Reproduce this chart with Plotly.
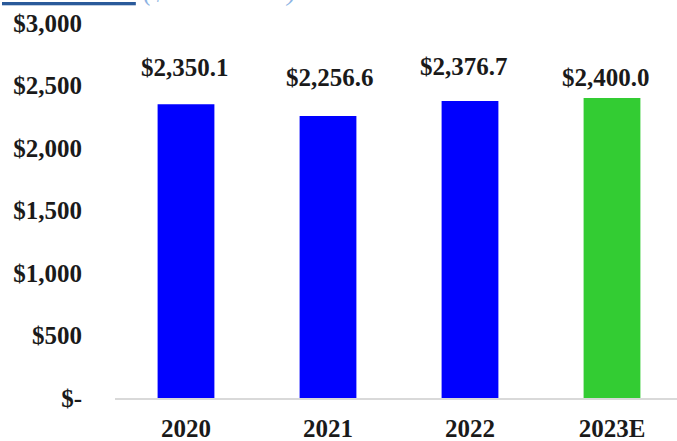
import plotly.graph_objects as go

categories = ["2020", "2021", "2022", "2023E"]
revenues = [2350.1, 2256.6, 2376.7, 2400.0]
value_labels = ["$2,350.1", "$2,256.6", "$2,376.7", "$2,400.0"]
y_tickvals = [0, 500, 1000, 1500, 2000, 2500, 3000]
y_ticktext = ["$-", "$500", "$1,000", "$1,500", "$2,000", "$2,500", "$3,000"]

bar_colors = ["#0000FF", "#0000FF", "#0000FF", "#33CC33"]
label_yshift = [37, 38, 34, 21]
label_xshift = [-1, 2, -6, -6]

FONT = "Liberation Serif"
W, H = 677, 441
L, R, T, B = 115, 0, 23, 43
plot_w = W - L - R

fig = go.Figure()
fig.add_trace(go.Bar(
    x=categories, y=revenues,
    marker=dict(color=bar_colors, line=dict(width=0)),
    hoverinfo="skip",
))

for i, (v, t) in enumerate(zip(revenues, value_labels)):
    fig.add_annotation(
        x=i, y=v, xref="x", yref="y", text=f"<b>{t}</b>", showarrow=False,
        xanchor="center", yanchor="middle",
        yshift=label_yshift[i], xshift=label_xshift[i],
        font=dict(family=FONT, size=25, color="#1a1a1a"),
    )

# Title (partially cropped at the top of the picture)
fig.add_annotation(
    xref="paper", yref="paper", x=-L / plot_w, y=1 + (T - 9) / (H - T - B),
    xanchor="left", yanchor="bottom", showarrow=False,
    text='<span style="color:#2A5A9A;font-size:33px"><b><u>Revenues</u></b></span> '
         '<span style="color:#8EB4E3;font-size:27px"><i>($ in millions)</i></span>',
    font=dict(family=FONT, size=30),
)

fig.update_layout(
    width=W, height=H,
    margin=dict(l=L, r=R, t=T, b=B, pad=0),
    paper_bgcolor="white", plot_bgcolor="white",
    bargap=0.6, showlegend=False,
    xaxis=dict(
        type="category", range=[-0.5, -0.5 + plot_w / 142.0],
        showgrid=False, zeroline=False, automargin=False,
        showline=True, linecolor="#d9d9d9", linewidth=2,
        ticks="", ticklabelstandoff=7,
        tickfont=dict(family=FONT, size=25, color="#1a1a1a"),
        tickprefix="<b>", ticksuffix="</b>",
    ),
    yaxis=dict(
        range=[0, 3000], showgrid=False, zeroline=False, showline=False,
        automargin=False,
        tickvals=y_tickvals, ticktext=[f"<b>{t}</b>" for t in y_ticktext],
        ticks="", ticklabelstandoff=32,
        tickfont=dict(family=FONT, size=25, color="#1a1a1a"),
    ),
)

fig.write_html("out.html")
